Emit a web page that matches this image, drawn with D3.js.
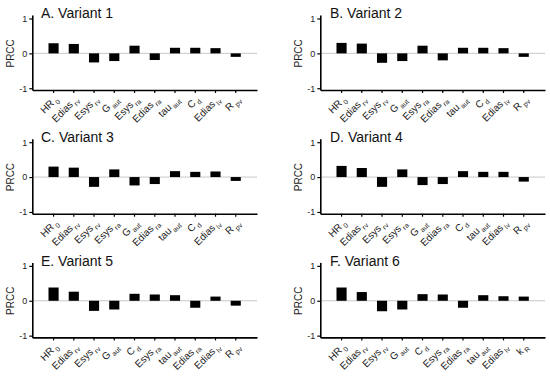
<!DOCTYPE html>
<html lang="en">
    <head>
        <meta charset="utf-8">
        <title>PRCC by variant</title>
        <script type="text/javascript" src="https://d3js.org/d3.v7.min.js"></script>
        <style type="text/css">
            body { margin: 0; background: #fff; }
            text { font-family: "Liberation Sans", Arial, sans-serif; }
        </style>
    </head>
    <body>
        <script type="text/javascript">

            const width = 550;
            const height = 382;

            // panel titles
            const titles = ["A. Variant 1", "B. Variant 2", "C. Variant 3",
                            "D. Variant 4", "E. Variant 5", "F. Variant 6"];

            // parameters (underscore = subscript) and PRCC values per variant
            const params1 = ["HR_0", "Edias_rv", "Esys_rv", "G_aut", "Esys_ra", "Edias_ra", "tau_aut", "C_d", "Edias_lv", "R_pv"];
            const prcc1   = [0.29, 0.27, -0.26, -0.22, 0.22, -0.19, 0.16, 0.16, 0.15, -0.10];

            const params2 = ["HR_0", "Edias_rv", "Esys_rv", "G_aut", "Esys_ra", "Edias_ra", "tau_aut", "C_d", "Edias_lv", "R_pv"];
            const prcc2   = [0.30, 0.28, -0.27, -0.22, 0.22, -0.20, 0.16, 0.16, 0.15, -0.10];

            const params3 = ["HR_0", "Edias_rv", "Esys_rv", "Esys_ra", "G_aut", "Edias_ra", "tau_aut", "C_d", "Edias_lv", "R_pv"];
            const prcc3   = [0.30, 0.27, -0.28, 0.22, -0.24, -0.20, 0.17, 0.15, 0.16, -0.11];

            const params4 = ["HR_0", "Edias_rv", "Esys_rv", "Esys_ra", "G_aut", "Edias_ra", "C_d", "tau_aut", "Edias_lv", "R_pv"];
            const prcc4   = [0.32, 0.26, -0.28, 0.22, -0.23, -0.20, 0.17, 0.15, 0.15, -0.13];

            const params5 = ["HR_0", "Edias_rv", "Esys_rv", "G_aut", "C_d", "Esys_ra", "tau_aut", "Edias_ra", "Edias_lv", "R_pv"];
            const prcc5   = [0.38, 0.26, -0.29, -0.25, 0.20, 0.18, 0.16, -0.20, 0.12, -0.14];

            const params6 = ["HR_0", "Edias_rv", "Esys_rv", "G_aut", "C_d", "Esys_ra", "Edias_ra", "tau_aut", "Edias_lv", "k_R"];
            const prcc6   = [0.38, 0.25, -0.30, -0.25, 0.19, 0.18, -0.20, 0.16, 0.13, 0.12];

            const yTicks = [-1, 0, 1];

            const panels = [
                {params: params1, values: prcc1},
                {params: params2, values: prcc2},
                {params: params3, values: prcc3},
                {params: params4, values: prcc4},
                {params: params5, values: prcc5},
                {params: params6, values: prcc6}
            ];

            const colOffset = 288;
            const rowOffset = 123.7;

            const svg = d3.select("body")
                          .append("svg")
                          .attr("width", width)
                          .attr("height", height);

            panels.forEach((p, i) => {
                const g = svg.append("g")
                    .attr("transform", "translate(" + (i % 2) * colOffset + "," + Math.floor(i / 2) * rowOffset + ")");

                const data = p.params.map((name, j) => ({name: name, value: p.values[j]}));

                const xScale = d3.scaleBand()
                                 .domain(p.params)
                                 .range([32.3, 257])
                                 .paddingInner(0.5)
                                 .paddingOuter(0.8);

                const yScale = d3.scaleLinear()
                                 .domain([-1.05, 1.1])
                                 .range([90, 15]);

                // zero reference line
                g.append("line")
                    .attr("x1", 32.3)
                    .attr("x2", 257)
                    .attr("y1", yScale(0))
                    .attr("y2", yScale(0))
                    .attr("stroke", "#c8c8c8")
                    .attr("stroke-width", 1);

                // bars
                g.selectAll("rect")
                    .data(data)
                    .enter()
                    .append("rect")
                    .attr("x", d => xScale(d.name))
                    .attr("y", d => yScale(Math.max(0, d.value)))
                    .attr("width", xScale.bandwidth())
                    .attr("height", d => Math.abs(yScale(d.value) - yScale(0)))
                    .attr("fill", "#000");

                // left axis
                const left = g.append("g")
                    .attr("transform", "translate(32.3,0)")
                    .call(d3.axisLeft(yScale).tickValues(yTicks).tickSize(3).tickSizeOuter(0).tickPadding(2)
                            .tickFormat(d3.format("d")));
                left.select(".domain").attr("stroke-width", 1.6);
                left.selectAll(".tick line").attr("stroke-width", 1.2);
                left.selectAll(".tick text")
                    .attr("font-size", "9px")
                    .attr("fill", "#222")
                    .attr("font-family", "Liberation Sans, Arial, sans-serif")
                    .text(d => d < 0 ? "-" + Math.abs(d) : d);

                // bottom axis, tick labels replaced by rotated ones with subscripts
                const bottom = g.append("g")
                    .attr("transform", "translate(0,90)")
                    .call(d3.axisBottom(xScale).tickSize(3).tickSizeOuter(0));
                bottom.select(".domain").attr("stroke-width", 1.6);
                bottom.selectAll(".tick line").attr("stroke-width", 1.2);
                bottom.selectAll(".tick text").remove();

                const labels = g.append("g")
                    .selectAll("text")
                    .data(p.params)
                    .enter()
                    .append("text")
                    .attr("font-size", "10px")
                    .attr("fill", "#222")
                    .attr("text-anchor", "end")
                    .attr("transform", d => "translate(" + (xScale(d) + xScale.bandwidth() / 2 + 5) + ",100) rotate(-45)");
                labels.append("tspan").text(d => d.split("_")[0]);
                labels.append("tspan")
                    .attr("font-size", "7px")
                    .attr("dx", 1.5)
                    .attr("dy", 3)
                    .text(d => d.split("_")[1]);

                // y label
                g.append("text")
                    .attr("transform", "translate(14," + yScale(0) + ") rotate(-90)")
                    .attr("text-anchor", "middle")
                    .attr("font-size", "10px")
                    .attr("fill", "#222")
                    .text("PRCC");

                // title
                g.append("text")
                    .attr("x", 41 + (i % 2) * 1)
                    .attr("y", 18.3)
                    .attr("font-size", "14px")
                    .attr("fill", "#111")
                    .text(titles[i]);
            });

        </script>
    </body>
</html>
